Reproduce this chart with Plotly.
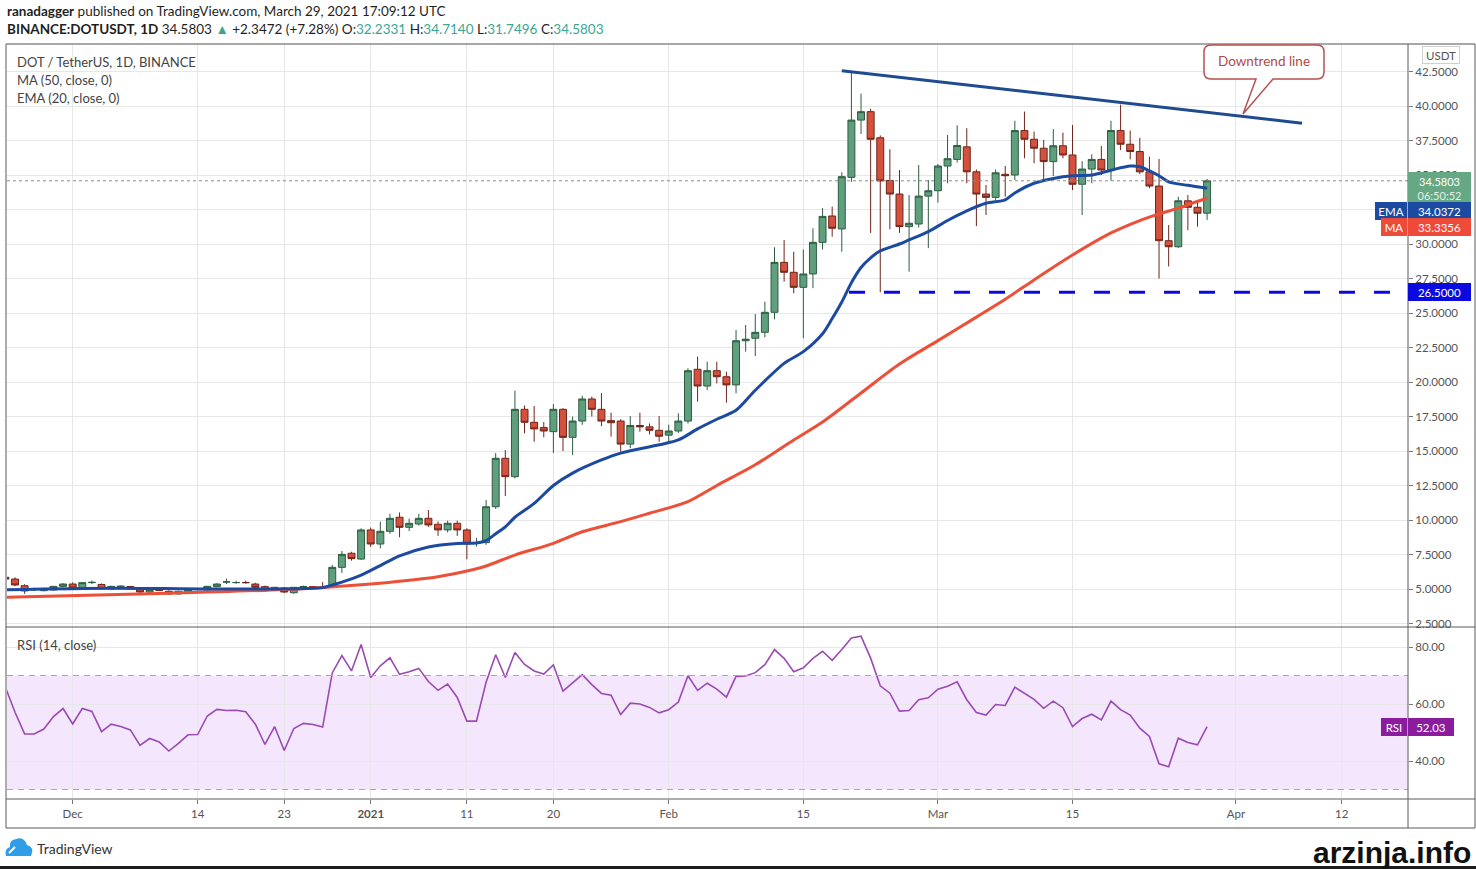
import plotly.graph_objects as go
import pandas as pd

# ---------------- data ----------------
dates = pd.date_range("2020-11-24", "2021-03-29", freq="D")

open_ = [5.85, 5.72, 5.24, 4.95, 4.88, 4.93, 5.19,
         5.36, 5.07, 5.46, 5.33, 5.00, 5.17, 5.18, 5.02, 4.78, 4.95, 4.83, 4.64, 4.83, 4.98, 4.93, 5.17, 5.50, 5.46, 5.47, 5.36, 5.17, 4.93, 5.07, 4.73, 5.12, 5.17, 5.15, 5.12, 6.57, 7.59, 7.17,
         9.28, 8.26, 9.18, 10.20, 9.47, 9.71, 10.12, 9.69, 9.28, 9.76, 9.28, 8.30, 8.36, 10.96, 14.47, 13.14, 18.02, 17.08, 16.70, 16.40, 18.02, 15.99, 17.17, 18.77, 18.02, 17.20, 17.17, 15.50, 16.85, 16.75, 16.50,
         16.15, 16.45, 17.17, 20.92, 19.71, 20.82, 20.38, 19.79, 22.99, 23.17, 23.60, 25.05, 28.67, 27.95, 26.86, 27.83, 30.12, 32.03, 31.09, 34.83, 38.98, 39.59, 37.70, 34.60, 33.62, 31.26, 31.45, 33.47,
         33.86, 35.65, 36.13, 37.04, 35.23, 33.62, 33.38, 35.05, 35.00, 38.22, 37.59, 36.94, 35.97, 37.12, 36.45, 34.33, 35.43, 36.13, 35.36, 38.22, 37.23, 36.70, 35.23, 34.20, 30.24, 29.80, 33.13, 32.66, 32.2331]
high = [6.05, 5.85, 5.35, 5.10, 5.05, 5.22, 5.42,
        5.48, 5.50, 5.62, 5.40, 5.24, 5.27, 5.22, 5.10, 5.02, 5.00, 4.90, 4.88, 5.02, 5.05, 5.22, 5.42, 5.75, 5.60, 5.60, 5.45, 5.25, 5.15, 5.12, 5.15, 5.25, 5.22, 5.50, 6.75, 7.75, 7.70, 9.40,
        9.45, 9.88, 10.45, 10.55, 10.10, 10.45, 10.72, 9.90, 9.95, 9.95, 9.40, 8.70, 11.45, 14.85, 15.07, 19.38, 18.30, 18.26, 17.10, 18.40, 18.10, 17.50, 19.00, 18.95, 19.20, 17.78, 17.30, 17.53, 17.78, 17.00, 17.53,
        16.90, 17.73, 21.00, 21.84, 21.47, 21.47, 20.75, 23.77, 24.13, 24.93, 25.82, 29.76, 30.29, 29.44, 29.60, 31.14, 32.60, 32.71, 35.20, 42.41, 40.90, 39.80, 37.87, 36.87, 35.36, 33.55, 35.72, 34.64,
        35.80, 37.90, 38.60, 38.39, 35.40, 34.28, 35.40, 35.65, 38.93, 39.60, 38.15, 37.54, 38.33, 38.07, 38.62, 36.00, 36.50, 37.10, 38.93, 40.10, 38.22, 37.70, 36.33, 36.16, 31.38, 33.43, 33.55, 33.08, 34.714]
low = [5.60, 5.20, 4.65, 4.85, 4.82, 4.88, 5.12,
       5.00, 5.02, 5.35, 4.95, 4.92, 5.10, 5.05, 4.72, 4.70, 4.85, 4.58, 4.60, 4.78, 4.90, 4.88, 5.12, 5.36, 5.38, 5.38, 5.08, 4.80, 4.88, 4.70, 4.65, 5.08, 5.10, 5.08, 5.10, 6.16, 7.05, 7.10,
       8.05, 7.95, 9.00, 8.75, 9.20, 9.60, 9.50, 8.85, 9.10, 8.85, 7.15, 8.07, 8.20, 10.80, 11.74, 13.00, 16.28, 15.67, 16.00, 14.86, 15.00, 14.70, 16.90, 17.50, 16.80, 16.04, 14.95, 15.20, 16.40, 16.20, 15.67,
       15.60, 16.30, 17.00, 18.58, 19.42, 19.90, 18.50, 19.18, 22.20, 21.88, 23.24, 24.54, 27.27, 26.43, 23.17, 26.80, 29.60, 30.53, 29.44, 34.50, 37.97, 30.80, 26.50, 31.07, 30.80, 28.00, 31.20, 29.70,
       33.00, 34.40, 35.90, 34.40, 31.30, 32.10, 33.20, 33.43, 34.64, 36.21, 35.85, 34.64, 34.93, 36.21, 33.91, 32.10, 34.40, 35.00, 34.60, 36.80, 36.13, 35.07, 34.04, 27.50, 28.37, 29.70, 31.00, 31.26, 31.7496]
close = [5.72, 5.29, 4.86, 4.98, 4.98, 5.19, 5.36,
         5.07, 5.46, 5.48, 5.02, 5.19, 5.20, 5.12, 4.78, 4.98, 4.90, 4.64, 4.83, 4.98, 4.96, 5.19, 5.36, 5.52, 5.47, 5.46, 5.12, 4.88, 5.12, 4.78, 5.12, 5.17, 5.15, 5.12, 6.57, 7.51, 7.20, 9.28,
         8.26, 9.18, 10.12, 9.47, 9.76, 10.12, 9.64, 9.28, 9.76, 9.28, 8.26, 8.36, 10.96, 14.47, 13.14, 18.02, 17.08, 16.60, 16.45, 18.02, 15.99, 17.17, 18.77, 18.02, 17.17, 17.05, 15.50, 16.85, 16.75, 16.50, 16.07,
         16.45, 17.17, 20.82, 19.71, 20.82, 20.38, 19.79, 22.99, 23.10, 23.60, 25.05, 28.67, 27.95, 26.86, 27.83, 30.12, 32.00, 31.14, 34.88, 38.98, 39.59, 37.59, 34.57, 33.62, 31.26, 31.50, 33.47, 33.86,
         35.65, 36.18, 37.14, 35.23, 33.62, 33.38, 35.16, 34.95, 38.22, 37.59, 36.94, 35.97, 37.12, 36.45, 34.33, 35.43, 36.13, 35.36, 38.22, 37.23, 36.70, 35.23, 34.20, 30.24, 29.80, 33.13, 32.66, 32.23, 34.5803]
rsi = [65.9, 57.1, 49.5, 49.5, 51.2, 55.6, 58.4,
       53.0, 58.4, 57.4, 50.3, 52.9, 52.1, 50.9, 45.5, 47.9, 46.7, 43.5, 46.2, 49.2, 49.3, 55.8, 58.1, 57.7, 57.8, 57.3, 52.9, 45.8, 52.1, 43.7, 51.4, 53.2, 52.8, 51.9, 70.9, 77.0, 71.6, 80.9,
       69.3, 73.4, 76.2, 70.4, 71.3, 72.5, 67.9, 64.8, 67.0, 62.3, 54.0, 54.0, 67.6, 77.3, 69.3, 78.1, 73.9, 71.6, 70.5, 73.7, 64.5, 67.3, 70.3, 66.8, 63.7, 63.1, 56.3, 60.3, 60.0, 58.8, 56.9,
       58.0, 60.7, 69.9, 64.8, 67.3, 65.2, 62.4, 69.7, 69.8, 71.0, 73.8, 79.1, 76.0, 71.3, 72.7, 76.0, 78.5, 75.3, 79.1, 83.2, 83.8, 76.1, 66.4, 63.8, 57.5, 57.7, 61.5, 62.2,
       65.2, 66.2, 67.8, 61.5, 57.0, 56.1, 59.8, 59.5, 65.9, 63.8, 61.6, 58.5, 61.0, 58.7, 52.1, 54.9, 56.4, 54.4, 61.0, 58.0, 56.1, 51.5, 48.6, 39.0, 38.0, 48.0, 46.5, 45.7, 52.03]

ema_dates = ["2020-11-24", "2020-12-05", "2020-12-15", "2020-12-25", "2020-12-27", "2020-12-29", "2020-12-31",
             "2021-01-02", "2021-01-04", "2021-01-07", "2021-01-10", "2021-01-12", "2021-01-13", "2021-01-14",
             "2021-01-15", "2021-01-16", "2021-01-18", "2021-01-20", "2021-01-22", "2021-01-25", "2021-01-27",
             "2021-01-31", "2021-02-02", "2021-02-04", "2021-02-06", "2021-02-08", "2021-02-10", "2021-02-13",
             "2021-02-15", "2021-02-17", "2021-02-18", "2021-02-19", "2021-02-20", "2021-02-21", "2021-02-22",
             "2021-02-23", "2021-02-25", "2021-02-26", "2021-02-28", "2021-03-02", "2021-03-04", "2021-03-06",
             "2021-03-08", "2021-03-09", "2021-03-11", "2021-03-13", "2021-03-15", "2021-03-17", "2021-03-19",
             "2021-03-21", "2021-03-22", "2021-03-23", "2021-03-24", "2021-03-25", "2021-03-27", "2021-03-29"]
ema_vals = [4.95, 5.06, 5.0, 5.03, 5.1, 5.5, 6.0,
            6.7, 7.4, 8.05, 8.3, 8.33, 8.5, 9.0,
            9.5, 10.2, 11.2, 12.5, 13.4, 14.35, 14.85,
            15.45, 15.8, 16.6, 17.3, 17.95, 19.4, 21.35,
            22.2, 23.5, 24.6, 25.8, 27.2, 28.3, 29.0,
            29.5, 30.0, 30.3, 30.9, 31.7, 32.4, 32.95,
            33.2, 33.7, 34.4, 34.75, 34.95, 35.0, 35.35,
            35.65, 35.6, 35.3, 34.95, 34.5, 34.25, 34.0372]

ma_dates = ["2020-11-24", "2020-12-11", "2020-12-25", "2020-12-31", "2021-01-08", "2021-01-11", "2021-01-13",
            "2021-01-16", "2021-01-20", "2021-01-23", "2021-01-27", "2021-01-30", "2021-02-03", "2021-02-06",
            "2021-02-10", "2021-02-14", "2021-02-17", "2021-02-21", "2021-02-25", "2021-03-01", "2021-03-05",
            "2021-03-08", "2021-03-11", "2021-03-15", "2021-03-19", "2021-03-22", "2021-03-24", "2021-03-26",
            "2021-03-29"]
ma_vals = [4.4, 4.69, 5.02, 5.3, 5.89, 6.3, 6.67,
           7.46, 8.31, 9.15, 9.88, 10.49, 11.33, 12.5,
           14.0, 15.8, 17.1, 19.2, 21.3, 23.0, 24.7,
           26.0, 27.4, 29.2, 30.8, 31.7, 32.17, 32.6,
           33.3356]

price_ticks = [2.5, 5, 7.5, 10, 12.5, 15, 17.5, 20, 22.5, 25, 27.5, 30, 32.5, 35, 37.5, 40, 42.5]
rsi_ticks = [40, 60, 80]
time_tick_dates = ["2020-12-01", "2020-12-14", "2020-12-23", "2021-01-01", "2021-01-11", "2021-01-20",
                   "2021-02-01", "2021-02-15", "2021-03-01", "2021-03-15", "2021-04-01", "2021-04-12"]
time_tick_text = ["Dec", "14", "23", "<b>2021</b>", "11", "20", "Feb", "15", "Mar", "15", "Apr", "12"]

trend_dates = ["2021-02-19 00:00", "2021-04-07 21:00"]
trend_prices = [42.56, 38.75]
support_level = 26.5
support_start = "2021-02-19 18:00"
last_price = 34.5803
ema_last = 34.0372
ma_last = 33.3356
rsi_last = 52.03
x_range = ["2020-11-24 04:00", "2021-04-18 21:30"]

assert len(open_) == len(high) == len(low) == len(close) == len(rsi) == len(dates)

# ---------------- layout helpers (pixel -> paper) ----------------
W, H = 1476, 869
ML, MR, MT, MB = 7, 68, 44, 70
PW, PH = W - ML - MR, H - MT - MB
SPLIT = (799 - 627) / PH


def X(px):
    return (px - ML) / PW


def Y(py):
    return (H - MB - py) / PH


def path(pts, close_path=True):
    s = ""
    for cmd, coords in pts:
        s += cmd + " " + " ".join(f"{X(a):.5f},{Y(b):.5f}" for a, b in coords) + " "
    return s + ("Z" if close_path else "")


FONT = "Lato, 'Open Sans', sans-serif"
GREEN = "#5f9f7d"
RED = "#d4513e"
GRID = "#e7e7e7"
AXC = "#555555"

fig = go.Figure()

fig.add_trace(go.Candlestick(
    x=dates, open=open_, high=high, low=low, close=close,
    increasing=dict(fillcolor=GREEN, line=dict(color="#2e5c42", width=1)),
    decreasing=dict(fillcolor=RED, line=dict(color="#6e2519", width=1)),
    whiskerwidth=0, showlegend=False, xaxis="x", yaxis="y", hoverinfo="skip"))

fig.add_trace(go.Scatter(x=ma_dates, y=ma_vals, mode="lines", xaxis="x", yaxis="y",
                         line=dict(color="#ec5038", width=3, shape="spline", smoothing=0.8),
                         showlegend=False, hoverinfo="skip"))
fig.add_trace(go.Scatter(x=ema_dates, y=ema_vals, mode="lines", xaxis="x", yaxis="y",
                         line=dict(color="#1d4aa1", width=3, shape="spline", smoothing=0.8),
                         showlegend=False, hoverinfo="skip"))

fig.add_trace(go.Scatter(x=dates, y=rsi, mode="lines", xaxis="x", yaxis="y2",
                         line=dict(color="#9a4bb3", width=1.6), showlegend=False, hoverinfo="skip"))

shapes = []
# RSI band
shapes.append(dict(type="rect", xref="paper", yref="y2", x0=0, x1=1, y0=30, y1=70,
                   fillcolor="#f4e6fc", line=dict(width=0), layer="below"))
for lvl in (70, 30):
    shapes.append(dict(type="line", xref="paper", yref="y2", x0=0, x1=1, y0=lvl, y1=lvl,
                       line=dict(color="#a8a8a8", width=1, dash="6px,5px")))
# last price dotted line
shapes.append(dict(type="line", xref="paper", yref="y", x0=0, x1=1, y0=last_price, y1=last_price,
                   line=dict(color="#8a8a8a", width=1, dash="dot")))
# support line
shapes.append(dict(type="line", xref="x", yref="y", x0=support_start, x1=x_range[1],
                   y0=support_level, y1=support_level,
                   line=dict(color="#0a0ae0", width=3, dash="16px,19px")))
# downtrend line
shapes.append(dict(type="line", xref="x", yref="y", x0=trend_dates[0], x1=trend_dates[1],
                   y0=trend_prices[0], y1=trend_prices[1],
                   line=dict(color="#1f4b8f", width=3)))
# frame & separators
BORDER = "#5a5a5a"
for py_ in (627, 799, 828):
    shapes.append(dict(type="line", xref="paper", yref="paper", x0=X(6), x1=X(1475), y0=Y(py_), y1=Y(py_),
                       line=dict(color=BORDER, width=1)))
shapes.append(dict(type="line", xref="paper", yref="paper", x0=X(6), x1=X(1475), y0=Y(44), y1=Y(44),
                   line=dict(color="#8a8a8a", width=1.5)))
for px_ in (6, 1408, 1475):
    shapes.append(dict(type="line", xref="paper", yref="paper", x0=X(px_), x1=X(px_), y0=Y(44), y1=Y(828),
                       line=dict(color=BORDER, width=1)))
# bottom dark edge
shapes.append(dict(type="line", xref="paper", yref="paper", x0=X(0), x1=X(1476), y0=Y(867.5), y1=Y(867.5),
                   line=dict(color="#1d1d1d", width=3)))
# callout bubble
bubble = [("M", [(1211, 45)]), ("L", [(1317, 45)]), ("Q", [(1324, 45), (1324, 52)]),
          ("L", [(1324, 72)]), ("Q", [(1324, 79), (1317, 79)]), ("L", [(1273, 79)]),
          ("L", [(1243, 114)]), ("L", [(1256, 79)]), ("L", [(1211, 79)]),
          ("Q", [(1204, 79), (1204, 72)]), ("L", [(1204, 52)]), ("Q", [(1204, 45), (1211, 45)])]
shapes.append(dict(type="path", xref="paper", yref="paper", path=path(bubble),
                   fillcolor="white", line=dict(color="#b5524f", width=1.5)))
# TradingView logo cloud
cloud = [("M", [(6, 856)]), ("L", [(31, 856)]), ("Q", [(35, 847), (27, 845)]),
         ("Q", [(24, 836), (16, 839)]), ("Q", [(9, 840), (10, 847)]), ("Q", [(4, 849), (6, 856)])]
shapes.append(dict(type="path", xref="paper", yref="paper", path=path(cloud),
                   fillcolor="#2f9ee8", line=dict(width=0)))
zig = [("M", [(9, 853)]), ("L", [(15, 847), (19, 851), (25, 845), (31, 850)])]
shapes.append(dict(type="path", xref="paper", yref="paper", path=path(zig, close_path=False),
                   line=dict(color="white", width=1.8)))

ann = []


def text(px_, py_, s, size=13, color="#333", xanchor="left", **kw):
    ann.append(dict(xref="paper", yref="paper", x=X(px_), y=Y(py_), text=s, showarrow=False,
                    xanchor=xanchor, yanchor="middle", font=dict(size=size, color=color, family=kw.pop("family", FONT)), **kw))


TEAL = "#3aa693"
text(5, 11, "<b>ranadagger</b> published on TradingView.com, March 29, 2021 17:09:12 UTC", size=13.5, color="#1f1f1f")
text(5, 29, "<b>BINANCE:DOTUSDT, 1D</b> 34.5803 <span style='color:%s'>▲</span> +2.3472 (+7.28%%) "
            "O:<span style='color:%s'>32.2331</span> H:<span style='color:%s'>34.7140</span> "
            "L:<span style='color:%s'>31.7496</span> C:<span style='color:%s'>34.5803</span>"
     % (TEAL, TEAL, TEAL, TEAL, TEAL), size=13.5, color="#1f1f1f")
text(15, 62, "DOT / TetherUS, 1D, BINANCE", size=13, color="#444")
text(15, 80, "MA (50, close, 0)", size=13, color="#444")
text(15, 98, "EMA (20, close, 0)", size=13, color="#444")
text(15, 645, "RSI (14, close)", size=13, color="#444")
text(1264, 61, "Downtrend line", size=13.5, color="#b04a48", xanchor="center")
text(35, 848, "TradingView", size=14, color="#333")
text(1473, 852, "<b>arzinja.info</b>", size=30, color="#111", xanchor="right",
     family="'Liberation Sans', Arial, sans-serif")

# right axis labels
def label(px_, py_, s, bg, fg="white", width=None, border=None, size=11.5, xanchor="left", height=None):
    d = dict(xref="paper", yref="paper", x=X(px_), y=Y(py_), text=s, showarrow=False,
             xanchor=xanchor, yanchor="middle", bgcolor=bg, font=dict(size=size, color=fg, family=FONT),
             borderpad=1, bordercolor=border or bg, borderwidth=1)
    if width:
        d["width"] = width
    if height:
        d["height"] = height
    ann.append(d)


label(1422, 55, "USDT", "white", fg="#555", border="#cfcfcf", width=34, height=14)
label(1408, 188, "34.5803<br><span style='color:#e3f1e8'>06:50:52</span>", "#65a883", width=59, height=29, size=11)
label(1408, 211, "34.0372", "#1d4aa1", width=59, height=14)
label(1375, 211, "EMA", "#1d4aa1", width=28, height=14)
label(1408, 227, "33.3356", "#ee4a39", width=59, height=14)
label(1381, 227, "MA", "#ee4a39", width=22, height=14)
label(1408, 292, "26.5000", "#0a0ae0", width=59, height=14)
label(1408, 727, "52.03", "#8c1c9e", width=42, height=14)
label(1381, 727, "RSI", "#8c1c9e", width=22, height=14)

fig.update_layout(
    width=W, height=H, autosize=False,
    margin=dict(l=ML, r=MR, t=MT, b=MB),
    paper_bgcolor="white", plot_bgcolor="white",
    font=dict(family=FONT, size=11, color=AXC),
    boxgap=0.12, boxgroupgap=0.18,
    shapes=shapes, annotations=ann, showlegend=False,
    xaxis=dict(type="date", range=x_range, anchor="y2", domain=[0, 1],
               tickvals=time_tick_dates, ticktext=time_tick_text,
               ticks="outside", ticklen=4, tickcolor="#777", tickfont=dict(size=11.5, color=AXC),
               showgrid=True, gridcolor=GRID, zeroline=False, showline=False,
               rangeslider=dict(visible=False), fixedrange=True),
    yaxis=dict(domain=[SPLIT, 1], range=[2.246, 44.493], side="right", anchor="x",
               tickvals=price_ticks, tickformat=".4f", ticks="outside", ticklen=4, tickcolor="#777",
               tickfont=dict(size=11.5, color=AXC), showgrid=True, gridcolor=GRID,
               zeroline=False, showline=False, fixedrange=True),
    yaxis2=dict(domain=[0, SPLIT], range=[26.667, 87.018], side="right", anchor="x",
                tickvals=rsi_ticks, tickformat=".2f", ticks="outside", ticklen=4, tickcolor="#777",
                tickfont=dict(size=11.5, color=AXC), showgrid=True, gridcolor=GRID,
                zeroline=False, showline=False, fixedrange=True),
)

fig.write_html("out.html", config={"displayModeBar": False},
               post_script="document.body.style.margin='0';document.body.style.overflow='hidden';")
